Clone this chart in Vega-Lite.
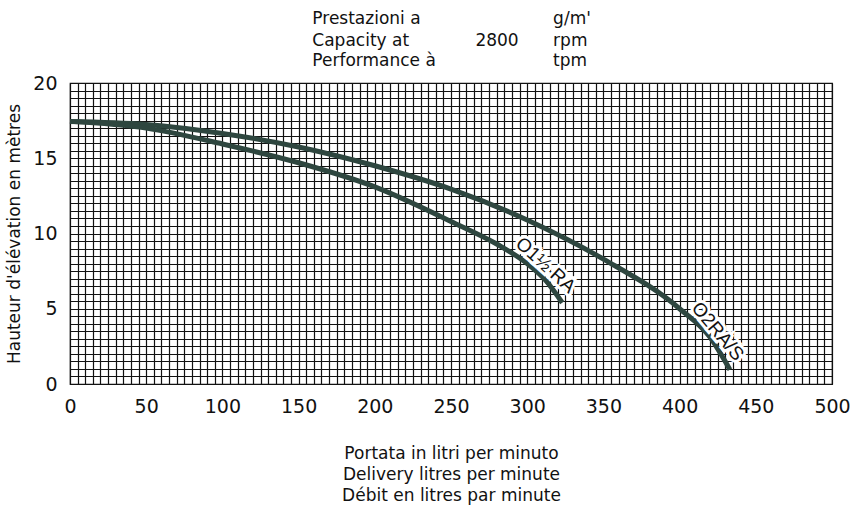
{
  "$schema": "https://vega.github.io/schema/vega-lite/v6.json",
  "width": 762,
  "height": 301,
  "autosize": "none",
  "padding": {"left": 70, "top": 83, "right": 18, "bottom": 122},
  "background": "white",
  "config": {
    "view": {"stroke": "#111", "strokeWidth": 1.2},
    "font": "DejaVu Sans"
  },
  "datasets": {
    "curves": [
      {"pump": "O2RA/S", "q": 0, "h": 17.45},
      {"pump": "O2RA/S", "q": 50, "h": 17.25},
      {"pump": "O2RA/S", "q": 100, "h": 16.65},
      {"pump": "O2RA/S", "q": 150, "h": 15.75},
      {"pump": "O2RA/S", "q": 200, "h": 14.5},
      {"pump": "O2RA/S", "q": 250, "h": 12.95},
      {"pump": "O2RA/S", "q": 300, "h": 10.9},
      {"pump": "O2RA/S", "q": 350, "h": 8.3},
      {"pump": "O2RA/S", "q": 400, "h": 5.0},
      {"pump": "O2RA/S", "q": 420, "h": 3.1},
      {"pump": "O2RA/S", "q": 433, "h": 0.95},
      {"pump": "O1½ RA", "q": 0, "h": 17.45},
      {"pump": "O1½ RA", "q": 50, "h": 17.0},
      {"pump": "O1½ RA", "q": 100, "h": 15.95},
      {"pump": "O1½ RA", "q": 150, "h": 14.7},
      {"pump": "O1½ RA", "q": 200, "h": 13.1},
      {"pump": "O1½ RA", "q": 250, "h": 10.8},
      {"pump": "O1½ RA", "q": 280, "h": 9.3},
      {"pump": "O1½ RA", "q": 300, "h": 8.0},
      {"pump": "O1½ RA", "q": 312, "h": 6.9},
      {"pump": "O1½ RA", "q": 323, "h": 5.4}
    ],
    "labels": [
      {"t": "O1½ RA", "q": 312, "h": 7.9, "a": 42},
      {"t": "O2RA/S", "q": 425, "h": 3.5, "a": 50}
    ],
    "header": [
      {"t": "Prestazioni a", "q": 159, "h": 24.25},
      {"t": "Capacity at", "q": 159, "h": 22.8},
      {"t": "Performance à", "q": 159, "h": 21.45},
      {"t": "2800", "q": 266, "h": 22.8},
      {"t": "g/m'", "q": 317, "h": 24.25},
      {"t": "rpm", "q": 317, "h": 22.8},
      {"t": "tpm", "q": 317, "h": 21.45}
    ]
  },
  "encoding": {
    "x": {
      "field": "q",
      "type": "quantitative",
      "scale": {"domain": [0, 500], "nice": false, "zero": false},
      "axis": {
        "tickCount": 100,
        "labelExpr": "datum.value % 50 === 0 ? format(datum.value, 'd') : ''",
        "labelOverlap": false,
        "labelFlush": false,
        "labelBound": false,
        "ticks": false,
        "tickSize": 0,
        "domain": false,
        "grid": true,
        "gridColor": "#111",
        "gridOpacity": 1,
        "gridWidth": 1.2,
        "labelFont": "DejaVu Sans",
        "labelFontSize": 19,
        "labelColor": "#111",
        "labelPadding": 13,
        "title": ["Portata in litri per minuto", "Delivery litres per minute", "Débit en litres par minute"],
        "titleFont": "DejaVu Sans",
        "titleFontSize": 17,
        "titleFontWeight": "normal",
        "titleColor": "#111",
        "titleLineHeight": 21,
        "titlePadding": 29
      }
    },
    "y": {
      "field": "h",
      "type": "quantitative",
      "scale": {"domain": [0, 20], "nice": false, "zero": false},
      "axis": {
        "tickCount": 40,
        "labelExpr": "datum.value % 5 === 0 ? format(datum.value, 'd') : ''",
        "labelOverlap": false,
        "labelFlush": false,
        "labelBound": false,
        "ticks": false,
        "tickSize": 0,
        "domain": false,
        "grid": true,
        "gridColor": "#111",
        "gridOpacity": 1,
        "gridWidth": 1.2,
        "labelFont": "DejaVu Sans",
        "labelFontSize": 19,
        "labelColor": "#111",
        "labelPadding": 13,
        "title": "Hauteur d'élévation en mètres",
        "titleFont": "DejaVu Sans",
        "titleFontSize": 17,
        "titleFontWeight": "normal",
        "titleColor": "#111",
        "titlePadding": 9
      }
    }
  },
  "layer": [
    {
      "data": {"name": "curves"},
      "mark": {"type": "line", "interpolate": "monotone", "strokeWidth": 5, "color": "#2e463f", "strokeCap": "butt"},
      "encoding": {"detail": {"field": "pump"}}
    },
    {
      "data": {"name": "labels"},
      "mark": {"type": "text", "font": "Liberation Sans", "fontSize": 19, "stroke": "white", "strokeWidth": 6, "fill": "white", "align": "center", "baseline": "middle"},
      "encoding": {"text": {"field": "t"}, "angle": {"field": "a", "type": "quantitative", "scale": null}}
    },
    {
      "data": {"name": "labels"},
      "mark": {"type": "text", "font": "Liberation Sans", "fontSize": 19, "fill": "#111", "align": "center", "baseline": "middle"},
      "encoding": {"text": {"field": "t"}, "angle": {"field": "a", "type": "quantitative", "scale": null}}
    },
    {
      "data": {"name": "header"},
      "mark": {"type": "text", "font": "DejaVu Sans", "fontSize": 17, "fill": "#111", "align": "left", "baseline": "middle"},
      "encoding": {"text": {"field": "t"}}
    }
  ]
}
